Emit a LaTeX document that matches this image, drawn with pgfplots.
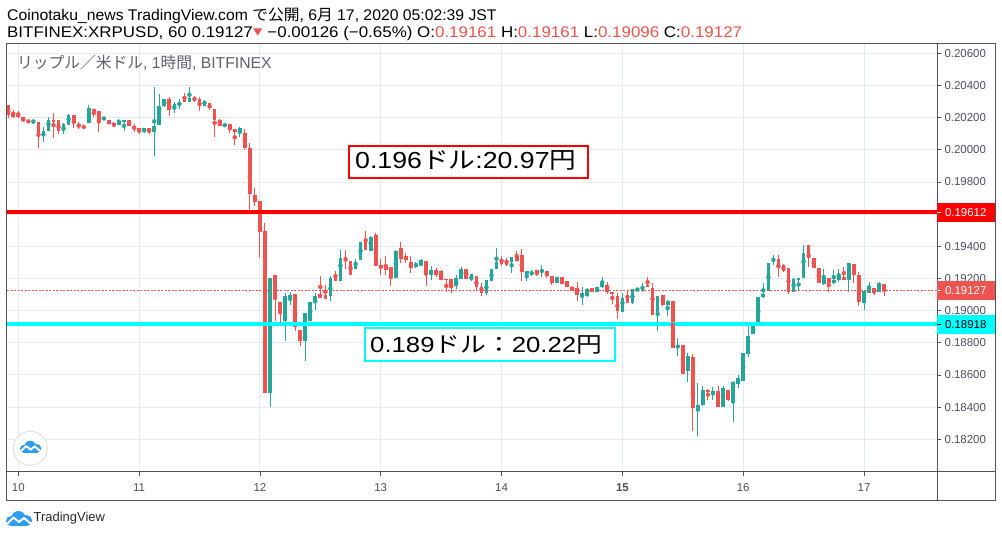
\documentclass[border=0pt]{standalone}
\usepackage{pgfplots}
\pgfplotsset{compat=1.18}
\usepackage{pgfplotstable}
\usepackage{fontspec}
\setmainfont{Liberation Sans}
\newfontfamily\jp{Noto Sans CJK JP}
\definecolor{cgreen}{HTML}{26A69A}
\definecolor{cred}{HTML}{EF5350}
\definecolor{gridc}{HTML}{E3EAF0}
\definecolor{framec}{HTML}{50535E}
\definecolor{txtc}{HTML}{4A4E59}
\definecolor{ttl}{HTML}{5D606B}
\definecolor{tvblue}{HTML}{2E9CF2}
\definecolor{lred}{HTML}{FF0000}
\definecolor{lcyan}{HTML}{00FFFF}
% hourly candles, x = hours since 10 Jun 00:00; o h l c
\pgfplotstableread{
x o h l c
3 0.20166 0.20193 0.20160 0.20176
5 0.20104 0.20145 0.20048 0.20120
6 0.20116 0.20207 0.20116 0.20187
9 0.20116 0.20170 0.20098 0.20158
10 0.20156 0.20222 0.20156 0.20216
14 0.20166 0.20278 0.20166 0.20263
17 0.20195 0.20199 0.20193 0.20199
20 0.20156 0.20193 0.20156 0.20176
21 0.20174 0.20183 0.20116 0.20183
25 0.20116 0.20139 0.20104 0.20139
27 0.20110 0.20390 0.19965 0.20151
28 0.20156 0.20350 0.20152 0.20276
29 0.20270 0.20319 0.20265 0.20319
31 0.20265 0.20298 0.20228 0.20284
32 0.20284 0.20317 0.20255 0.20300
34 0.20300 0.20390 0.20296 0.20325
37 0.20272 0.20313 0.20272 0.20284
41 0.20147 0.20166 0.20141 0.20162
44 0.20110 0.20145 0.20079 0.20137
50 0.18488 0.19202 0.18399 0.19202
53 0.18933 0.19109 0.18809 0.19088
54 0.19078 0.19113 0.19033 0.19099
57 0.18809 0.18985 0.18685 0.18985
58 0.18933 0.19055 0.18933 0.19055
59 0.19057 0.19109 0.19006 0.19092
62 0.19088 0.19213 0.19061 0.19206
64 0.19182 0.19378 0.19182 0.19327
67 0.19258 0.19320 0.19258 0.19304
68 0.19316 0.19428 0.19316 0.19428
70 0.19374 0.19465 0.19374 0.19457
75 0.19202 0.19378 0.19202 0.19374
79 0.19271 0.19304 0.19264 0.19277
80 0.19279 0.19324 0.19279 0.19312
82 0.19233 0.19275 0.19192 0.19250
87 0.19151 0.19219 0.19136 0.19200
88 0.19196 0.19269 0.19196 0.19262
90 0.19188 0.19227 0.19182 0.19227
93 0.19109 0.19192 0.19099 0.19188
94 0.19182 0.19258 0.19182 0.19258
95 0.19258 0.19389 0.19258 0.19304
98 0.19300 0.19331 0.19233 0.19331
101 0.19227 0.19248 0.19182 0.19248
102 0.19227 0.19254 0.19213 0.19238
104 0.19244 0.19285 0.19209 0.19248
107 0.19175 0.19209 0.19175 0.19209
112 0.19096 0.19146 0.19038 0.19109
113 0.19088 0.19140 0.19088 0.19135
115 0.19113 0.19150 0.19113 0.19146
116 0.19144 0.19212 0.19140 0.19171
120 0.18993 0.19109 0.18989 0.19078
122 0.19047 0.19133 0.19042 0.19133
123 0.19129 0.19133 0.19129 0.19133
124 0.19125 0.19171 0.19113 0.19154
127 0.18974 0.19088 0.18871 0.19088
129 0.19036 0.19067 0.18964 0.19057
131 0.18778 0.18833 0.18720 0.18788
133 0.18622 0.18736 0.18554 0.18720
135 0.18378 0.18550 0.18219 0.18415
136 0.18411 0.18529 0.18405 0.18508
138 0.18481 0.18525 0.18446 0.18498
140 0.18401 0.18533 0.18401 0.18519
142 0.18442 0.18564 0.18306 0.18556
143 0.18546 0.18602 0.18519 0.18581
144 0.18560 0.18736 0.18560 0.18736
145 0.18732 0.18906 0.18711 0.18844
146 0.18854 0.18912 0.18854 0.18912
147 0.18902 0.19084 0.18902 0.19084
148 0.19082 0.19175 0.19078 0.19105
149 0.19125 0.19295 0.19125 0.19295
150 0.19312 0.19347 0.19285 0.19320
154 0.19113 0.19202 0.19113 0.19196
155 0.19192 0.19202 0.19123 0.19202
156 0.19202 0.19409 0.19202 0.19357
160 0.19167 0.19258 0.19160 0.19202
162 0.19171 0.19250 0.19167 0.19192
163 0.19192 0.19258 0.19181 0.19212
165 0.19192 0.19299 0.19113 0.19299
168 0.19047 0.19129 0.19005 0.19125
169 0.19109 0.19181 0.19109 0.19140
171 0.19119 0.19181 0.19119 0.19171
}\greens
\pgfplotstableread{
x o h l c
-2 0.20282 0.20282 0.20199 0.20216
-1 0.20232 0.20251 0.20199 0.20207
0 0.20220 0.20245 0.20197 0.20203
1 0.20207 0.20207 0.20172 0.20178
2 0.20189 0.20189 0.20166 0.20166
4 0.20176 0.20176 0.20011 0.20104
7 0.20189 0.20230 0.20077 0.20176
8 0.20187 0.20187 0.20098 0.20116
11 0.20214 0.20214 0.20135 0.20166
12 0.20160 0.20174 0.20129 0.20147
13 0.20145 0.20156 0.20129 0.20141
15 0.20255 0.20255 0.20203 0.20234
16 0.20245 0.20245 0.20110 0.20172
18 0.20183 0.20183 0.20162 0.20162
19 0.20166 0.20172 0.20141 0.20149
22 0.20183 0.20183 0.20149 0.20149
23 0.20151 0.20164 0.20110 0.20141
24 0.20139 0.20139 0.20100 0.20116
26 0.20139 0.20139 0.20100 0.20110
30 0.20319 0.20327 0.20212 0.20249
33 0.20319 0.20352 0.20296 0.20300
35 0.20325 0.20338 0.20296 0.20305
36 0.20315 0.20331 0.20240 0.20282
38 0.20292 0.20292 0.20251 0.20259
39 0.20257 0.20257 0.20079 0.20189
40 0.20183 0.20193 0.20147 0.20147
42 0.20162 0.20162 0.20106 0.20123
43 0.20127 0.20127 0.20031 0.20114
45 0.20108 0.20127 0.20002 0.20009
46 0.20009 0.20046 0.19624 0.19727
47 0.19717 0.19760 0.19649 0.19676
48 0.19683 0.19683 0.19326 0.19492
49 0.19496 0.19544 0.18488 0.18488
51 0.19223 0.19223 0.18935 0.19074
52 0.19055 0.19055 0.18927 0.18995
55 0.19105 0.19105 0.18871 0.18898
56 0.18881 0.18881 0.18782 0.18809
60 0.19105 0.19217 0.19078 0.19078
61 0.19099 0.19161 0.19074 0.19074
63 0.19210 0.19244 0.19186 0.19186
65 0.19333 0.19378 0.19258 0.19312
66 0.19306 0.19306 0.19223 0.19223
69 0.19430 0.19498 0.19378 0.19378
71 0.19471 0.19486 0.19279 0.19279
72 0.19283 0.19322 0.19223 0.19271
73 0.19279 0.19337 0.19219 0.19250
74 0.19269 0.19269 0.19151 0.19211
76 0.19389 0.19428 0.19295 0.19322
77 0.19341 0.19358 0.19295 0.19312
78 0.19304 0.19337 0.19233 0.19264
81 0.19306 0.19306 0.19155 0.19233
83 0.19254 0.19264 0.19209 0.19223
84 0.19244 0.19254 0.19192 0.19192
85 0.19196 0.19196 0.19113 0.19192
86 0.19196 0.19196 0.19109 0.19140
89 0.19260 0.19260 0.19196 0.19196
91 0.19213 0.19213 0.19130 0.19147
92 0.19147 0.19171 0.19093 0.19109
96 0.19316 0.19341 0.19279 0.19289
97 0.19316 0.19327 0.19279 0.19285
99 0.19341 0.19374 0.19306 0.19306
100 0.19347 0.19382 0.19182 0.19238
103 0.19254 0.19254 0.19213 0.19229
105 0.19248 0.19248 0.19206 0.19213
106 0.19217 0.19217 0.19159 0.19171
108 0.19210 0.19210 0.19163 0.19165
109 0.19185 0.19185 0.19146 0.19146
110 0.19150 0.19150 0.19125 0.19125
111 0.19140 0.19177 0.19061 0.19098
114 0.19138 0.19140 0.19117 0.19117
117 0.19160 0.19181 0.19105 0.19113
118 0.19113 0.19117 0.19042 0.19105
119 0.19092 0.19109 0.18951 0.18995
121 0.19078 0.19125 0.19047 0.19047
125 0.19160 0.19208 0.19146 0.19150
126 0.19140 0.19171 0.18974 0.18974
128 0.19098 0.19098 0.19030 0.19036
130 0.19057 0.19057 0.18767 0.18767
132 0.18788 0.18788 0.18608 0.18608
134 0.18711 0.18732 0.18250 0.18395
137 0.18508 0.18513 0.18442 0.18496
139 0.18502 0.18533 0.18401 0.18401
141 0.18508 0.18508 0.18436 0.18442
151 0.19320 0.19347 0.19208 0.19264
152 0.19285 0.19290 0.19240 0.19247
153 0.19264 0.19264 0.19102 0.19119
157 0.19409 0.19409 0.19274 0.19326
158 0.19326 0.19326 0.19264 0.19264
159 0.19264 0.19264 0.19171 0.19175
161 0.19206 0.19206 0.19113 0.19171
164 0.19212 0.19274 0.19192 0.19192
166 0.19291 0.19291 0.19175 0.19223
167 0.19223 0.19243 0.19030 0.19051
170 0.19140 0.19140 0.19098 0.19109
172 0.19167 0.19167 0.19092 0.19127
}\reds
\newcommand\tvcloud{%
  \fill[tvblue] (5,10) circle (5);
  \fill[tvblue] (12.5,7) circle (7);
  \fill[tvblue] (20.5,9.5) circle (5.5);
  \fill[tvblue] (5,10) rectangle (20.5,15);
  \draw[white, line width=2bp, line join=round, line cap=round] (1.5,12.5) -- (7.5,6.5) -- (13,11) -- (18,7) -- (24.5,12.5);
}
\begin{document}
\begin{tikzpicture}
\path[use as bounding box] (0bp,0bp) rectangle (1002bp,-537bp);
\begin{axis}[
  at={(6.5bp,-471.7bp)}, anchor=south west,
  scale only axis, width=930.5bp, height=428.7bp,
  xmin=-2.344, xmax=182.5, ymin=0.17998, ymax=0.20665,
  axis line style={framec, line width=0.8bp},
  xtick={0,24,48,72,96,120,144,168},
  xticklabels={10,11,12,13,14,\textbf{15},16,17},
  ytick={0.182,0.184,0.186,0.188,0.190,0.192,0.194,0.196,0.198,0.200,0.202,0.204,0.206},
  scaled y ticks=false,
  /pgf/number format/assume math mode=true,
  yticklabel style={/pgf/number format/.cd, fixed, fixed zerofill, precision=5, assume math mode=true},
  xticklabel style={yshift=-4.5bp},
  yticklabel pos=right, ytick pos=right, xtick pos=bottom,
  tick align=outside, major tick length=4bp,
  tick style={framec, line width=0.8bp},
  grid=major, major grid style={gridc, line width=1bp},
  tick label style={font=\fontsize{11.5}{12}\selectfont, text=txtc},
]
% wicks: error bars from low to high
\addplot[cgreen, only marks, mark=none, forget plot,
  error bars/.cd, y dir=both, y explicit, error mark=none,
  error bar style={line width=1bp}]
  table[x=x, y expr={(\thisrow{h}+\thisrow{l})/2}, y error expr={(\thisrow{h}-\thisrow{l})/2}] {\greens};
\addplot[cred, only marks, mark=none, forget plot,
  error bars/.cd, y dir=both, y explicit, error mark=none,
  error bar style={line width=1bp}]
  table[x=x, y expr={(\thisrow{h}+\thisrow{l})/2}, y error expr={(\thisrow{h}-\thisrow{l})/2}] {\reds};
% bodies: quiver from open to close
\addplot[cgreen, line width=3.7bp, -, forget plot,
  quiver={u=0, v=\thisrow{c}-\thisrow{o}}]
  table[x=x, y=o] {\greens};
\addplot[cred, line width=3.7bp, -, forget plot,
  quiver={u=0, v=\thisrow{o}-\thisrow{c}}]
  table[x=x, y=c] {\reds};
\addplot[lred, line width=4bp, mark=none] coordinates {(-5,0.19612) (185,0.19612)};
\addplot[lcyan, line width=4bp, mark=none] coordinates {(-5,0.18918) (185,0.18918)};
\addplot[cred, line width=0.8bp, mark=none, dash pattern=on 2bp off 1.5bp] coordinates {(-5,0.19127) (185,0.19127)};
\end{axis}
\begin{scope}[x=1bp, y=-1bp]
  \draw[framec, line width=0.8bp] (6.5,43) rectangle (995,500);
  \draw[framec, line width=0.8bp] (937,43) -- (937,500);
  \draw[framec, line width=0.8bp] (6.5,471.7) -- (995,471.7);
  \fill[lred] (937.4,203.3) rectangle (994.5,221.7);
  \draw[white, line width=0.8bp] (937.4,212.5) -- (941,212.5);
  \node[anchor=west, inner sep=0, text=white, font=\fontsize{11.5}{12}\selectfont] at (944.8,212.5) {0.19612};
  \fill[cred] (937.4,281) rectangle (994.5,299.7);
  \draw[white, line width=0.8bp] (937.4,290.4) -- (941,290.4);
  \node[anchor=west, inner sep=0, text=white, font=\fontsize{11.5}{12}\selectfont] at (944.8,290.4) {0.19127};
  \fill[lcyan] (937.4,315.3) rectangle (994.5,333.7);
  \draw[black, line width=0.8bp] (937.4,324.5) -- (941,324.5);
  \node[anchor=west, inner sep=0, text=black, font=\fontsize{11.5}{12}\selectfont] at (944.8,324.5) {0.18918};
  \draw[lred, line width=2bp, fill=white] (349.3,145.7) rectangle (588.3,177.7);
  \node[anchor=base west, inner sep=0, font=\fontsize{23.3}{26}\selectfont] at (355,168.3) {\scalebox{1.15}[1]{0.196{\jp ドル}:20.97{\jp 円}}};
  \draw[lcyan, line width=2bp, fill=white] (365,328.3) rectangle (615,361);
  \node[anchor=base west, inner sep=0, font=\fontsize{21.9}{26}\selectfont] at (370,352.3) {\scalebox{1.18}[1]{0.189{\jp ドル：}20.22{\jp 円}}};
  \node[anchor=base west, inner sep=0, font=\fontsize{15.5}{18}\selectfont] at (7,20.5) {\scalebox{1.02}[1]{Coinotaku\_news TradingView.com {\jp で公開}, 6{\jp 月} 17, 2020 05:02:39 JST}};
  \node[anchor=base west, inner sep=0, font=\fontsize{15.5}{18}\selectfont] at (7,37) {\scalebox{1.097}[1]{BITFINEX:XRPUSD, 60 0.19127\raisebox{1.5bp}{\textcolor{cred}{\jp\fontsize{9}{9}\selectfont ▼}} −0.00126 (−0.65\%) O:\textcolor{cred}{0.19161} H:\textcolor{cred}{0.19161} L:\textcolor{cred}{0.19096} C:\textcolor{cred}{0.19127}}};
  \node[anchor=base west, inner sep=0, text=ttl, font=\fontsize{15.8}{18}\selectfont] at (17,68) {{\jp リップル／米ドル}, 1{\jp 時間}, BITFINEX};
  \draw[fill=white, draw=black!12, line width=1bp] (30.3,448.3) circle (17);
  \begin{scope}[shift={(20,440.7)}, scale=0.82]
    \tvcloud
  \end{scope}
  \begin{scope}[shift={(6,511)}]
    \tvcloud
  \end{scope}
  \node[anchor=west, inner sep=0, text=black!85, font=\fontsize{13}{14}\selectfont] at (33.5,518.5) {TradingView};
\end{scope}
\end{tikzpicture}
\end{document}
